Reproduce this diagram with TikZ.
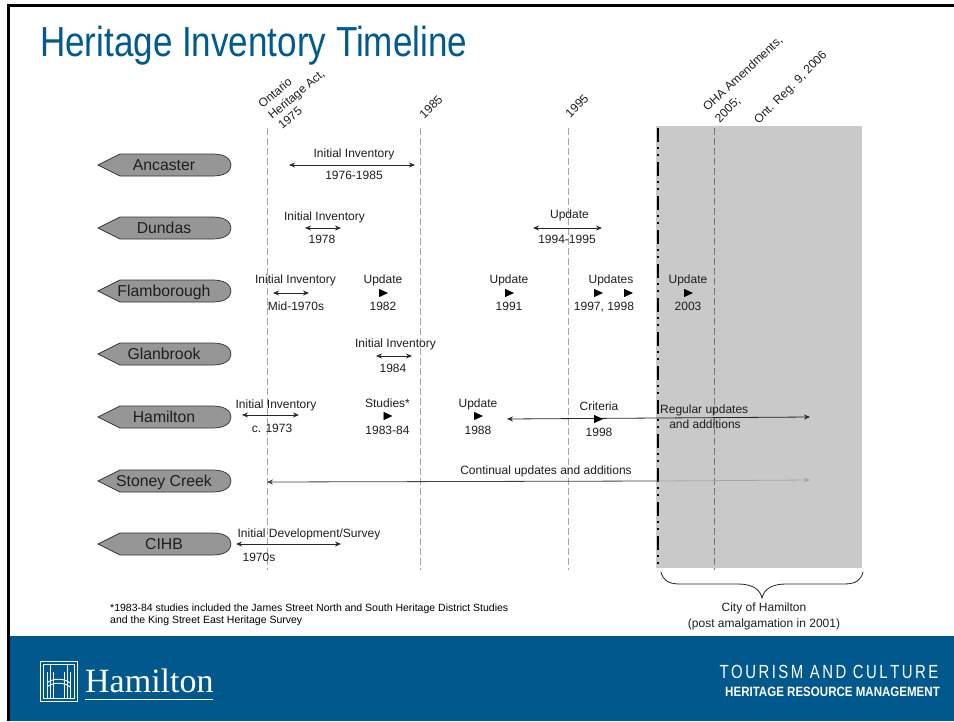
\documentclass[tikz,border=0pt]{standalone}
\usepackage{fontspec}
\setmainfont{Liberation Sans}
\newfontfamily\serifhamilton{Liberation Serif}
\usetikzlibrary{arrows.meta}
\definecolor{titleblue}{HTML}{005A8C}
\definecolor{bandblue}{HTML}{00588D}
\definecolor{zonegray}{HTML}{C9C9C9}
\definecolor{pillgray}{HTML}{969696}
\definecolor{guidegray}{HTML}{A6A6A6}
\definecolor{inktext}{HTML}{1E1E1E}
\tikzset{
  lab/.style={font=\fontsize{12}{14}\selectfont,text=inktext,inner sep=0pt,anchor=center,text height=8.6pt,text depth=2.5pt,yshift=-1.25pt},
  townlab/.style={font=\fontsize{15.8}{18}\selectfont,text=inktext,inner sep=0pt,anchor=center,text height=11.5pt,text depth=3.3pt,yshift=-1.5pt},
  slant/.style={font=\fontsize{12}{14}\selectfont,text=inktext,inner sep=0pt,anchor=center,rotate=45},
  pill/.style={draw=black!80,fill=pillgray,line width=0.7pt},
  guide/.style={draw=guidegray,line width=0.9pt,dash pattern=on 7pt off 3pt},
  span/.style={draw=black!85,line width=0.8pt,{Stealth[length=6pt,width=5pt]}-{Stealth[length=6pt,width=5pt]}},
  tick/.style={draw=black,line width=0.8pt,-{Triangle[length=9pt,width=8pt]}},
  logoline/.style={white,line width=0.9pt},
}
\newcommand{\town}[3]{%
  \draw[pill] (98,#2) -- (120,#2-11) -- (213,#2-11)
    .. controls (225,#2-11) and (231,#2-6) .. (231,#2)
    .. controls (231,#2+6) and (225,#2+11) .. (213,#2+11)
    -- (120,#2+11) -- cycle;
  \node[townlab] (#1) at (164,#2) {#3};}
\newcommand{\lbl}[4]{\node[lab] (#1) at (#2,#3) {#4};}
\newcommand{\spanarrow}[5]{%
  \coordinate (#1a) at (#2,#4); \coordinate (#1b) at (#3,#5);
  \draw[span] (#1a) -- (#1b);}
\newcommand{\tickarrow}[3]{%
  \coordinate (#1a) at (#2-5,#3); \coordinate (#1b) at (#2+5,#3);
  \draw[tick,shorten <=1pt] (#1a) -- (#1b);}
\begin{document}
\begin{tikzpicture}[x=1pt,y=-1pt]
\useasboundingbox (0,0) rectangle (954,721);
\fill[white] (0,0) rectangle (954,721);
% frame and band
\fill[black] (7,4) rectangle (954,7);
\fill[black] (7,4) rectangle (9.5,721);
\fill[bandblue] (9.5,636) rectangle (954,721);
% title
\node[inner sep=0pt,anchor=base west,text=titleblue,font=\fontsize{42}{46}\selectfont,xscale=0.834] (title) at (40,56) {Heritage Inventory Timeline};
% zone
\fill[zonegray] (656,126) rectangle (862,568);
% guides
\coordinate (g1t) at (267,128); \coordinate (g1b) at (267,570);
\coordinate (g2t) at (420,128); \coordinate (g2b) at (420,570);
\coordinate (g3t) at (568,128); \coordinate (g3b) at (568,570);
\coordinate (g4t) at (714,128); \coordinate (g4b) at (714,570);
\coordinate (g5t) at (658,128); \coordinate (g5b) at (658,570);
\draw[guide] (g1t) -- (g1b);
\draw[guide] (g2t) -- (g2b);
\draw[guide] (g3t) -- (g3b);
\draw[draw=black!55,line width=0.9pt,dash pattern=on 7pt off 3pt] (g4t) -- (g4b);
\draw[black,line width=1.8pt,dash pattern=on 14pt off 5pt on 2pt off 5pt on 2pt off 6pt] (g5t) -- (g5b);
% slanted heads
\node[slant,rotate=-5] (h1) at (275,92.5) {Ontario};
\node[slant,rotate=-5] (h2) at (297,95) {Heritage Act,};
\node[slant,rotate=-5] (h3) at (290,118) {1975};
\node[slant] (h4) at (431,107) {1985};
\node[slant] (h5) at (577,106) {1995};
\node[slant,rotate=-2] (h6) at (743,74) {OHA Amendments,};
\node[slant] (h7) at (728,110) {2005;};
\node[slant] (h8) at (791,88) {Ont. Reg. 9, 2006};
% towns
\town{anc}{165}{Ancaster}
\town{dun}{228}{Dundas}
\town{fla}{291}{Flamborough}
\town{gla}{354}{Glanbrook}
\town{ham}{417}{Hamilton}
\town{sto}{481}{Stoney Creek}
\town{cih}{544}{CIHB}
% Ancaster
\lbl{a1}{354}{153}{Initial Inventory}
\lbl{a2}{354}{175}{1976-1985}
\spanarrow{ar}{289}{415}{165}{165}
% Dundas
\lbl{d1}{324.5}{216}{Initial Inventory}
\lbl{d2}{322}{239}{1978}
\spanarrow{dr}{305}{341}{228}{228}
\lbl{d3}{569.5}{214}{Update}
\lbl{d4}{567}{239}{1994-1995}
\spanarrow{ds}{533}{602}{228}{228}
% Flamborough
\lbl{f1}{295.5}{279}{Initial Inventory}
\lbl{f2}{296}{306}{Mid-1970s}
\spanarrow{fr}{273}{309}{293}{293}
\lbl{f3}{383}{279}{Update}
\lbl{f4}{383}{306}{1982}
\tickarrow{ft}{383}{293}
\lbl{f5}{509}{279}{Update}
\lbl{f6}{509}{306}{1991}
\tickarrow{fu}{509}{293}
\lbl{f7}{611}{279}{Updates}
\lbl{f8}{604}{306}{1997, 1998}
\tickarrow{fv}{598}{293}
\tickarrow{fw}{628}{293}
\lbl{f9}{688}{279}{Update}
\lbl{f10}{688}{306}{2003}
\tickarrow{fx}{688}{293}
% Glanbrook
\lbl{g1}{395.5}{343.5}{Initial Inventory}
\lbl{g2}{393}{368}{1984}
\spanarrow{gr}{376}{412}{356}{356}
% Hamilton
\lbl{h9}{276}{404}{Initial Inventory}
\lbl{h10}{272}{428}{c. 1973}
\spanarrow{hr}{242}{299}{415}{415}
\lbl{h11}{387.5}{403}{Studies*}
\lbl{h12}{387.5}{430}{1983-84}
\tickarrow{hs}{387.5}{416}
\lbl{h13}{478}{403}{Update}
\lbl{h14}{478}{430}{1988}
\tickarrow{ht}{478}{416}
\spanarrow{hu}{507}{810}{419}{417}
\lbl{h15}{599}{406}{Criteria}
\lbl{h16}{599}{432}{1998}
\tickarrow{hv}{598}{419}
\node[lab,anchor=west] (h17) at (660,409) {Regular updates};
\lbl{h18}{705}{424.5}{and additions}
% Stoney Creek
\lbl{s1}{546}{470}{Continual updates and additions}
\coordinate (sa) at (267,482); \coordinate (sm) at (658,481); \coordinate (sb) at (810,480);
\draw[draw=black!75,line width=0.8pt,{Stealth[length=6pt,width=5pt]}-] (sa) -- (sm);
\draw[draw=black!35,line width=0.8pt,-{Stealth[length=6pt,width=5pt]}] (sm) -- (sb);
% CIHB
\lbl{c1}{309}{533}{Initial Development/Survey}
\lbl{c2}{259}{557}{1970s}
\spanarrow{cr}{236}{341}{544}{544}
% brace
\coordinate (bl) at (661,572); \coordinate (br) at (863,572); \coordinate (bt) at (762,598);
\draw[black!85,line width=0.8pt] (bl) .. controls (663,580) and (668,584) .. (680,584)
  -- (738,584) .. controls (752,584) and (760,589) .. (bt)
  .. controls (764,589) and (772,584) .. (786,584)
  -- (844,584) .. controls (856,584) and (861,580) .. (br);
\lbl{b1}{764}{607}{City of Hamilton}
\lbl{b2}{764}{623}{(post amalgamation in 2001)}
% footnote
\node[lab,anchor=west,text=black,font=\fontsize{10.5}{12}\selectfont] (n1) at (110,607) {*1983-84 studies included the James Street North and South Heritage District Studies};
\node[lab,anchor=west,text=black,font=\fontsize{10.5}{12}\selectfont] (n2) at (110,619) {and the King Street East Heritage Survey};
% footer
\node[inner sep=0pt,anchor=base west,text=white,font=\serifhamilton\fontsize{34}{36}\selectfont] (logoname) at (85,692) {Hamilton};
\draw[white,line width=0.8pt] (85,699) -- (213,699);
\draw[white,line width=0.7pt] (40.5,661) rectangle (77,701);
\draw[white,line width=0.5pt] (43,664) rectangle (74.5,698);
\foreach \xx/\yy in {47/672,50/665,53/672,64/672,67/665,70/672} \draw[logoline] (\xx,\yy) -- (\xx,698);
\draw[logoline] (47,683) .. controls (52,678) and (65,678) .. (70,683);
\draw[logoline] (47,687) .. controls (52,682) and (65,682) .. (70,687);
\node[inner sep=0pt,anchor=base east,text=white,font=\fontsize{19}{21}\selectfont,xscale=.785] (tc) at (938.5,678) {T\,O\,U\,R\,I\,S\,M\, A\,N\,D\, C\,U\,L\,T\,U\,R\,E};
\node[inner sep=0pt,anchor=base east,text=white,font=\bfseries\fontsize{13.5}{15}\selectfont,xscale=.855] (hr) at (940,696) {HERITAGE RESOURCE MANAGEMENT};
\end{tikzpicture}
\end{document}
